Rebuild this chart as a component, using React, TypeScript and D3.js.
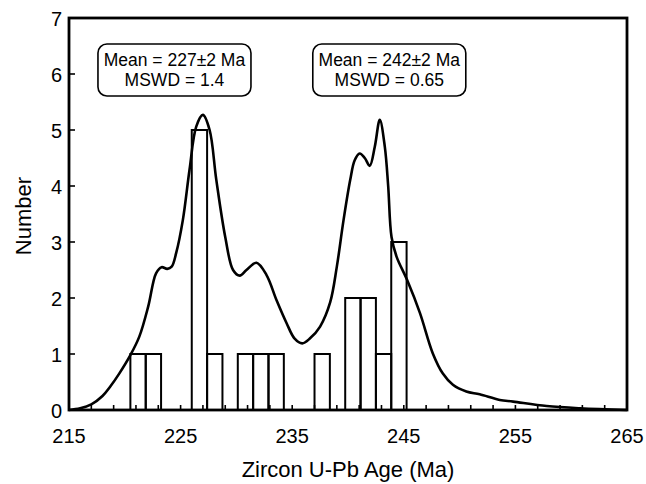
import React from "react";
import * as d3 from "d3";

// Histogram bins (start age, Ma) and counts
const binWidth = 1.375;
const binStarts = [220.5, 221.875, 226.0, 227.375, 230.125, 231.5, 232.875, 237.0, 239.75, 241.125, 242.5, 243.875];
const binCounts = [1, 1, 5, 1, 1, 1, 1, 1, 2, 2, 1, 3];

// Probability density curve
const curveAges = [
  215.0, 216.0, 217.0, 218.0, 218.7, 219.5, 220.5, 221.3, 222.1, 222.8, 223.3, 223.8, 224.2, 224.6, 225.2, 225.8,
  226.4, 227.0, 227.6, 228.2, 229.0, 229.7, 230.3, 230.9, 231.8, 232.7, 233.6, 234.5, 235.2, 235.9, 236.6, 237.5,
  238.4, 239.0, 239.6, 240.2, 240.6, 241.05, 241.5, 241.95, 242.4, 242.85, 243.3, 243.6, 243.9, 244.35, 245.3,
  246.45, 247.6, 248.5, 249.4, 250.6, 251.8, 253.6, 254.8, 257.8, 260.8, 265.0,
];
const curveValues = [
  0.0, 0.03, 0.1, 0.25, 0.42, 0.65, 0.98, 1.31, 1.85, 2.44, 2.55, 2.52, 2.56, 2.8, 3.39, 4.29,
  5.06, 5.27, 5.0, 4.11, 3.09, 2.5, 2.4, 2.5, 2.63, 2.41, 1.96, 1.55, 1.28, 1.19, 1.28, 1.49,
  1.92, 2.56, 3.39, 4.11, 4.46, 4.58, 4.5, 4.36, 4.7, 5.18, 4.7, 4.0, 3.09, 2.74, 2.32,
  1.73, 1.01, 0.65, 0.45, 0.33, 0.28, 0.18, 0.15, 0.07, 0.03, 0.0,
];

const xTickLabels = [215, 225, 235, 245, 255, 265];
const yTickLabels = [0, 1, 2, 3, 4, 5, 6, 7];
const minorXTicks = d3.range(217, 265, 2);

const boxLines = [
  ["Mean = 227±2 Ma", "MSWD = 1.4"],
  ["Mean = 242±2 Ma", "MSWD = 0.65"],
];
const boxCenters = [224.45, 243.7];

const FONT = "'Liberation Sans', Arial, Helvetica, sans-serif";

export default function App() {
  const W = 646;
  const H = 484;
  const left = 69, right = 627, top = 18, bottom = 410;
  const x = d3.scaleLinear().domain([215, 265]).range([left, right]);
  const y = d3.scaleLinear().domain([0, 7]).range([bottom, top]);

  const pts = curveAges.map((a, i) => [a, curveValues[i]] as [number, number]);
  const line = d3
    .line<[number, number]>()
    .x((d) => x(d[0]))
    .y((d) => y(d[1]))
    .curve(d3.curveCatmullRom.alpha(0.5));

  const boxW = 153, boxH = 52, boxTop = 44;

  return (
    <svg width={W} height={H} style={{ position: "absolute", left: 0, top: 0, background: "#fff" }} fontFamily={FONT}>
      {binStarts.map((s, i) => (
        <rect
          key={"b" + i}
          x={x(s)}
          y={y(binCounts[i])}
          width={x(s + binWidth) - x(s)}
          height={y(0) - y(binCounts[i])}
          fill="none"
          stroke="#000"
          strokeWidth={2}
        />
      ))}
      <path d={line(pts) || ""} fill="none" stroke="#000" strokeWidth={2.6} strokeLinejoin="round" />
      {minorXTicks.map((t) => (
        <line key={"xt" + t} x1={x(t)} x2={x(t)} y1={bottom} y2={bottom - 5} stroke="#000" strokeWidth={1.6} />
      ))}
      {yTickLabels.slice(1, -1).map((t) => (
        <line key={"yt" + t} x1={left} x2={left + 6} y1={y(t)} y2={y(t)} stroke="#000" strokeWidth={1.6} />
      ))}
      <rect x={left} y={top} width={right - left} height={bottom - top} fill="none" stroke="#000" strokeWidth={2.8} />
      {xTickLabels.map((t) => (
        <text key={"xl" + t} x={x(t)} y={443} textAnchor="middle" fontSize={20}>
          {t}
        </text>
      ))}
      {yTickLabels.map((t) => (
        <text key={"yl" + t} x={62} y={y(t) + 7.5} textAnchor="end" fontSize={20}>
          {t}
        </text>
      ))}
      <text x={(left + right) / 2} y={477} textAnchor="middle" fontSize={22}>
        Zircon U-Pb Age (Ma)
      </text>
      <text transform={`translate(31,${216}) rotate(-90)`} textAnchor="middle" fontSize={22}>
        Number
      </text>
      {boxLines.map((lines, i) => {
        const cx = x(boxCenters[i]);
        return (
          <g key={"box" + i}>
            <rect x={cx - boxW / 2} y={boxTop} width={boxW} height={boxH} rx={9} ry={9} fill="#fff" stroke="#000" strokeWidth={1.6} />
            <text x={cx} y={66} textAnchor="middle" fontSize={17.5}>
              {lines[0]}
            </text>
            <text x={cx} y={85.5} textAnchor="middle" fontSize={17.5}>
              {lines[1]}
            </text>
          </g>
        );
      })}
    </svg>
  );
}
